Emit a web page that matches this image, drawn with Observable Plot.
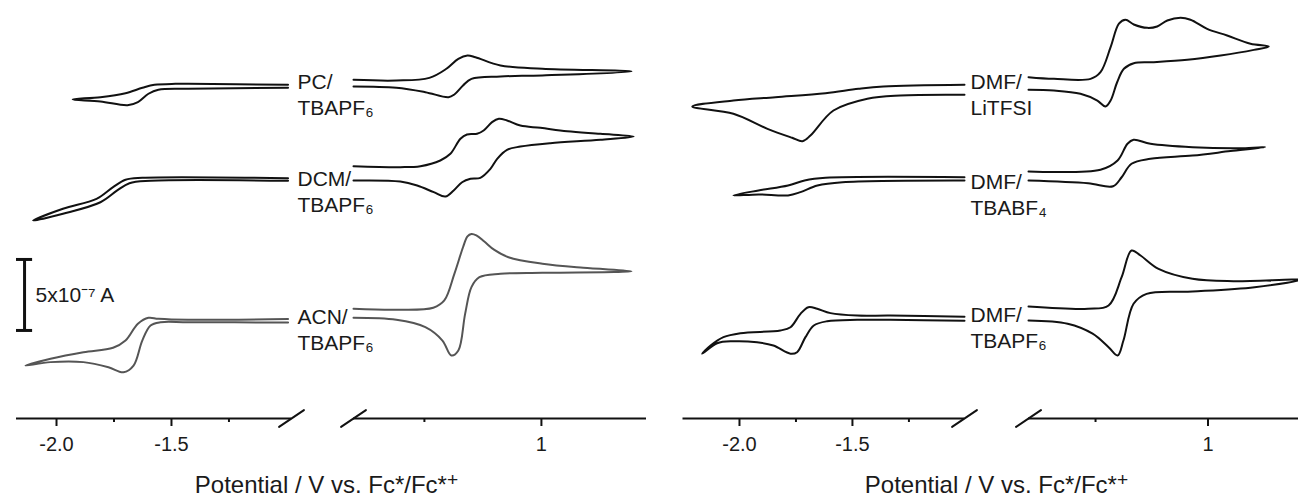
<!DOCTYPE html>
<html>
<head>
<meta charset="utf-8">
<script src="https://cdn.jsdelivr.net/npm/d3@7"></script>
<script src="https://cdn.jsdelivr.net/npm/@observablehq/plot@0.6"></script>
<style>
  html, body { margin: 0; padding: 0; background: #fff; }
  #wrap { display: flex; width: 1298px; height: 498px; overflow: hidden; }
  #wrap svg { flex: none; }
</style>
</head>
<body>
<div id="wrap"></div>
<script>
// ---------- DATA (potential in V vs. Fc*/Fc*+, current in 1e-7 A with stacking offset) ----------
// Each CV part runs from the axis break along one branch to the turning point and back.
const pcLeft = [
  [-0.993,23.50],[-1.428,23.57],[-1.483,23.57],[-1.574,23.50],[-1.626,23.29],[-1.700,22.91],[-1.809,22.63],[-1.930,22.47],
  [-1.809,22.33],[-1.691,22.06],[-1.646,22.28],[-1.600,22.87],[-1.557,23.15],[-1.428,23.22],[-0.993,23.29]
];
const pcRight = [
  [0.197,23.85],[0.380,23.80],[0.521,23.99],[0.594,24.63],[0.645,25.33],[0.684,25.56],[0.718,25.44],[0.825,24.86],[1.004,24.63],[1.385,24.44],
  [1.004,24.16],[0.825,24.09],[0.701,23.92],[0.665,23.45],[0.628,22.82],[0.603,22.63],[0.504,22.98],[0.380,23.29],[0.197,23.38]
];
const dcmLeft = [
  [-0.993,16.92],[-1.627,16.95],[-1.700,16.81],[-1.754,16.29],[-1.826,15.47],[-1.972,14.77],[-2.102,13.94],
  [-1.972,14.42],[-1.809,15.23],[-1.736,16.06],[-1.683,16.57],[-1.591,16.74],[-0.993,16.74]
];
const dcmRight = [
  [0.197,17.77],[0.397,17.70],[0.483,17.77],[0.568,18.17],[0.611,18.64],[0.654,19.70],[0.682,20.00],[0.725,20.05],[0.753,20.28],[0.789,20.87],[0.818,21.11],[0.853,20.99],[0.910,20.63],[0.996,20.47],[1.110,20.23],[1.252,20.05],[1.394,19.86],
  [1.252,19.63],[1.038,19.39],[0.910,19.15],[0.853,18.92],[0.811,18.29],[0.782,17.58],[0.739,16.95],[0.697,16.88],[0.661,16.64],[0.625,16.06],[0.590,15.63],[0.540,15.94],[0.469,16.41],[0.397,16.69],[0.197,16.76]
];
const acnLeft = [
  [-0.993,7.01],[-1.428,6.95],[-1.557,7.02],[-1.600,7.09],[-1.646,6.67],[-1.700,5.49],[-1.754,4.98],[-1.883,4.67],[-2.026,4.21],[-2.135,3.73],
  [-2.026,3.97],[-1.883,3.97],[-1.774,3.61],[-1.709,3.26],[-1.665,3.73],[-1.627,5.49],[-1.591,6.55],[-1.548,6.78],[-1.428,6.78],[-0.993,6.76]
];
const acnRight = [
  [0.197,7.73],[0.380,7.66],[0.538,7.80],[0.585,8.31],[0.628,10.19],[0.665,12.06],[0.684,12.82],[0.701,12.99],[0.722,12.89],[0.756,12.46],[0.799,11.87],[0.859,11.36],[1.004,10.90],[1.179,10.61],[1.385,10.37],
  [1.004,10.26],[0.825,10.19],[0.735,9.95],[0.701,9.25],[0.674,7.37],[0.645,4.79],[0.615,4.44],[0.577,5.49],[0.504,6.43],[0.380,6.95],[0.197,7.09]
];
const litfsiLeft = [
  [-1.004,23.50],[-1.363,23.38],[-1.473,23.22],[-1.619,22.91],[-1.841,22.63],[-2.027,22.40],[-2.209,21.97],
  [-2.027,21.46],[-1.876,20.40],[-1.767,19.77],[-1.721,19.53],[-1.686,19.93],[-1.584,21.69],[-1.434,22.52],[-1.288,22.75],[-1.004,22.80]
];
const litfsiRight = [
  [0.202,24.04],[0.315,23.92],[0.478,23.92],[0.522,24.39],[0.567,26.15],[0.604,27.80],[0.633,28.08],[0.670,27.75],[0.730,27.51],[0.774,27.61],[0.819,28.03],[0.878,28.22],[0.922,28.08],[0.996,27.44],[1.085,26.97],[1.189,26.39],[1.270,26.20],
  [1.204,25.96],[1.056,25.56],[0.908,25.26],[0.759,25.09],[0.670,25.02],[0.626,24.63],[0.596,23.68],[0.567,22.39],[0.544,21.97],[0.508,22.39],[0.433,22.87],[0.315,23.10],[0.202,23.15]
];
const tbabf4Left = [
  [-1.004,16.99],[-1.619,16.95],[-1.712,16.76],[-1.785,16.41],[-1.916,16.06],[-2.027,15.71],
  [-1.916,15.78],[-1.785,15.71],[-1.730,15.94],[-1.655,16.41],[-1.544,16.64],[-1.004,16.76]
];
const tbabf4Right = [
  [0.202,17.40],[0.522,17.52],[0.598,18.17],[0.642,19.35],[0.669,19.63],[0.744,19.35],[0.931,19.11],[1.153,19.04],[1.254,19.11],
  [1.100,18.83],[0.931,18.52],[0.744,18.29],[0.660,17.94],[0.616,16.99],[0.578,16.36],[0.467,16.57],[0.202,16.76]
];
const dmfPf6Left = [
  [-1.004,7.16],[-1.332,7.25],[-1.479,7.25],[-1.597,7.42],[-1.656,7.73],[-1.695,7.84],[-1.730,7.37],[-1.774,6.43],[-1.819,6.20],[-1.996,6.01],[-2.071,5.73],[-2.128,5.14],[-2.165,4.56],
  [-2.099,5.30],[-2.027,5.44],[-1.922,5.37],[-1.850,5.14],[-1.774,4.56],[-1.745,4.67],[-1.708,5.73],[-1.671,6.55],[-1.612,6.85],[-1.479,6.95],[-1.332,6.95],[-1.004,6.88]
];
const dmfPf6Right = [
  [0.202,7.89],[0.467,7.73],[0.558,7.96],[0.616,9.95],[0.660,11.83],[0.700,11.48],[0.780,10.54],[0.931,9.84],[1.113,9.67],[1.411,9.77],
  [1.207,9.25],[0.931,8.94],[0.727,8.78],[0.669,8.08],[0.624,5.49],[0.598,4.44],[0.558,5.02],[0.487,5.97],[0.376,6.67],[0.202,6.90]
];

// Labels
const labelsLeft = ["PC/\nTBAPF₆", "DCM/\nTBAPF₆", "ACN/\nTBAPF₆"];
const labelsRight = ["DMF/\nLiTFSI", "DMF/\nTBABF₄", "DMF/\nTBAPF₆"];
const labelLevelsLeft = [22.85, 16.06, 6.30];
const labelLevelsRight = [22.85, 15.85, 6.44];

// Axes (broken x-axis: left and right segments)
const segmentsLeft = [[-2.174, -0.978], [0.197, 1.449]];
const segmentsRight = [[-2.25, -1.004], [0.202, 1.42]];
const majorTicks = [-2.0, -1.5, 1];
const majorTickLabels = ["-2.0", "-1.5", "1"];
const minorTicks = [-1.75, -1.25, 0.5];
const axisTitleMain = "Potential / V vs. Fc*/Fc*";
const axisTitleSup = "+";

// Scale bar: 5x10^-7 A
const scaleBar = {v: -2.139, c0: 6.2, c1: 11.2, capHalf: 0.035, label: "5x10⁻⁷ A"};

// ---------- DRAWING ----------
const FONT = '"Liberation Sans", Arial, Helvetica, sans-serif';
const INK = "#111";
const lineShape = {draw(ctx, l) { ctx.moveTo(0, 0); ctx.lineTo(0, -l); }};
const rows = (parts) => parts.flatMap(([id, color, pts]) => pts.map(([v, c]) => ({id, color, v, c})));

function panel({parts, labels, levels, segments, xDomain, xRange, marginLeft, withScaleBar}) {
  const data = rows(parts);
  const breakLeft = segments[0][1], breakRight = segments[1][0];
  const marks = [
    Plot.line(data, {x: "v", y: "c", z: "id", stroke: "color", strokeWidth: 2, curve: "catmull-rom", strokeLinejoin: "round"}),
    Plot.ruleY(segments, {y: () => 0, x1: d => d[0], x2: d => d[1], stroke: INK, strokeWidth: 2}),
    Plot.ruleX(majorTicks, {x: d => d, y1: () => 0, y2: () => 0, insetBottom: -8, stroke: INK, strokeWidth: 2}),
    Plot.ruleX(minorTicks, {x: d => d, y1: () => 0, y2: () => 0, insetBottom: -4, stroke: INK, strokeWidth: 2}),
    Plot.text(majorTicks, {x: d => d, y: () => 0, text: (d, i) => majorTickLabels[i], dy: 26, fontSize: 20, fill: "#1a1a1a"}),
    Plot.vector([breakLeft, breakRight], {x: d => d, y: () => 0, length: 30, rotate: 56, anchor: "middle", shape: lineShape, stroke: INK, strokeWidth: 2}),
    Plot.text(labels, {x: () => breakLeft, y: (d, i) => levels[i], text: d => d, textAnchor: "start", dx: 6, lineHeight: 1.24, fontSize: 21, fill: "#1a1a1a"}),
    Plot.text([axisTitleMain], {frameAnchor: "bottom", text: d => d, dx: -5, dy: -13, lineAnchor: "middle", fontSize: 24, fill: "#1a1a1a", className: "axis-title"})
  ];
  if (withScaleBar) {
    marks.push(
      Plot.ruleX([scaleBar], {x: "v", y1: "c0", y2: "c1", stroke: INK, strokeWidth: 3}),
      Plot.ruleY([scaleBar.c0, scaleBar.c1], {y: d => d, x1: () => scaleBar.v - scaleBar.capHalf, x2: () => scaleBar.v + scaleBar.capHalf, stroke: INK, strokeWidth: 3}),
      Plot.text([scaleBar], {x: "v", y: d => (d.c0 + d.c1) / 2, text: "label", textAnchor: "start", dx: 11, fontSize: 21, fill: "#1a1a1a"})
    );
  }
  const svg = Plot.plot({
    width: 649, height: 498,
    marginTop: 0, marginBottom: 0, marginRight: 0, marginLeft,
    style: {fontFamily: FONT, background: "#fff", overflow: "visible"},
    x: {type: "linear", domain: xDomain, range: xRange, axis: null},
    y: {type: "linear", domain: [0, 30], range: [418, -8], axis: null},
    marks
  });
  // raised "+" of Fc*+ in the axis title
  svg.querySelectorAll("g.axis-title text, .axis-title text").forEach(t => {
    if (t.textContent === axisTitleMain && !t.querySelector("tspan")) {
      const ts = document.createElementNS("http://www.w3.org/2000/svg", "tspan");
      ts.setAttribute("dy", "-0.38em");
      ts.setAttribute("font-size", "0.8em");
      ts.textContent = axisTitleSup;
      t.append(ts);
    }
  });
  return svg;
}

const left = panel({
  parts: [
    ["pcL", INK, pcLeft], ["pcR", INK, pcRight],
    ["dcmL", INK, dcmLeft], ["dcmR", INK, dcmRight],
    ["acnL", "#555", acnLeft], ["acnR", "#555", acnRight]
  ],
  labels: labelsLeft, levels: labelLevelsLeft,
  segments: segmentsLeft,
  xDomain: [segmentsLeft[0][0], segmentsLeft[0][1], segmentsLeft[1][0], segmentsLeft[1][1]],
  xRange: [16, 291, 353, 646],
  marginLeft: 13,
  withScaleBar: true
});
const right = panel({
  parts: [
    ["liL", INK, litfsiLeft], ["liR", INK, litfsiRight],
    ["bf4L", INK, tbabf4Left], ["bf4R", INK, tbabf4Right],
    ["pf6L", INK, dmfPf6Left], ["pf6R", INK, dmfPf6Right]
  ],
  labels: labelsRight, levels: labelLevelsRight,
  segments: segmentsRight,
  xDomain: [segmentsRight[0][0], segmentsRight[0][1], segmentsRight[1][0], segmentsRight[1][1]],
  xRange: [33.5, 315, 379, 653],
  marginLeft: 55,
  withScaleBar: false
});
document.getElementById("wrap").append(left, right);
</script>
</body>
</html>
